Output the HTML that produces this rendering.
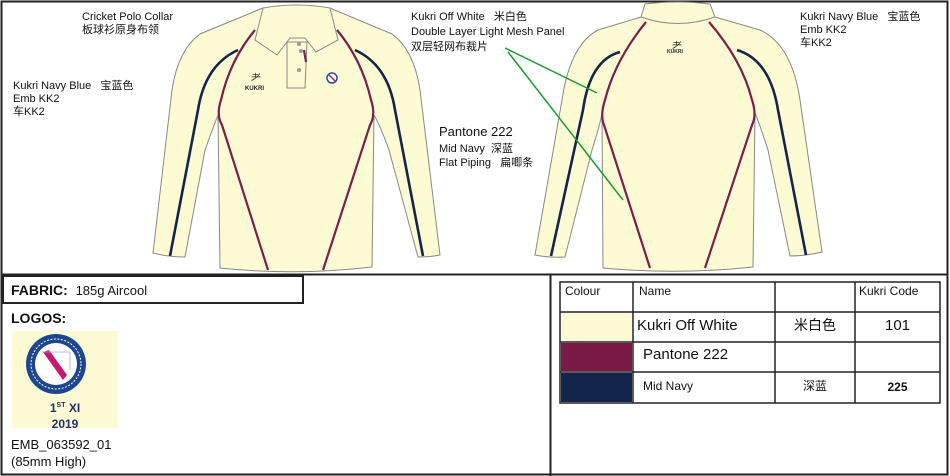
<!DOCTYPE html>
<html><head><meta charset="utf-8"><style>
html,body{margin:0;padding:0;background:#fff;}
body{width:950px;height:476px;position:relative;overflow:hidden;font-family:"Liberation Sans","Noto Sans CJK SC",sans-serif;color:#111;}
.t{position:absolute;font-size:11px;line-height:13px;white-space:nowrap;}
svg{position:absolute;left:0;top:0;}
</style></head><body>
<svg width="950" height="476" viewBox="0 0 950 476">
<rect x="1.5" y="1.5" width="946" height="473" fill="none" stroke="#222" stroke-width="2"/>
<!-- FRONT SHIRT -->
<g stroke="#888" stroke-width="1" fill="#fdfbd3">
<path d="M263,8 L200,34 Q178,50 172,90 L153,253 Q168,257 185,257 L205,150 Q214,125 218,115 L220,268 Q296,276 372,267 L374,115 Q380,125 389,150 L418,257 Q430,257 440,255 L420,90 Q414,50 392,34 L330,8 Z"/>
<path d="M263,8 Q296,2 330,8 L338,40 L316,52 L305,38 L290,38 L277,55 L255,40 Z"/>
<path d="M287,42 L287,88 L305,88 L307,42 Z"/>
</g>
<g fill="none" stroke-width="2.2">
<path d="M255,30 Q230,60 221,100 Q216,115 222,125 L268,270" stroke="#7a1f48"/>
<path d="M337,30 Q362,60 371,100 Q376,115 370,125 L323,270" stroke="#7a1f48"/>
<path d="M238,50 Q205,65 198,110 L170,256" stroke="#13254b" stroke-width="2.6"/>
<path d="M355,50 Q388,65 395,110 L423,256" stroke="#13254b" stroke-width="2.6"/>
<path d="M304,50 L306,62" stroke="#7a1f48"/>
</g>
<circle cx="299" cy="44" r="2" fill="#999"/><circle cx="301" cy="51" r="2" fill="#999"/><circle cx="299" cy="70" r="2" fill="#999"/>
<circle cx="332" cy="78" r="5" fill="#fff" stroke="#2550a0" stroke-width="1.5"/>
<path d="M329,75 L335,81" stroke="#c0206a" stroke-width="1.5"/>
<text x="251" y="81" font-size="10" fill="#222">⺹</text>
<text x="245" y="90" font-size="6" font-weight="bold" fill="#222">KUKRI</text>
<!-- BACK SHIRT -->
<g stroke="#888" stroke-width="1" fill="#fdfbd3">
<path d="M641,17 L598,30 Q570,45 562,100 L535,255 Q550,258 565,257 L592,150 Q600,125 602,113 L603,268 Q678,275 753,267 L755,113 Q760,125 768,150 L790,256 Q806,256 822,252 L800,100 Q792,45 760,30 L715,17 Z"/>
<path d="M645,4 Q678,0 710,4 L715,17 Q678,30 641,17 Z"/>
</g>
<g fill="none" stroke-width="2.2">
<path d="M646,22 Q615,60 605,100 Q600,115 604,125 L650,268" stroke="#7a1f48"/>
<path d="M709,22 Q742,60 752,100 Q757,115 752,125 L705,268" stroke="#7a1f48"/>
<path d="M620,52 Q590,60 583,110 L551,256" stroke="#13254b" stroke-width="2.6"/>
<path d="M737,50 Q770,60 778,110 L806,255" stroke="#13254b" stroke-width="2.6"/>
</g>
<text x="672" y="49" font-size="10" fill="#222">⺹</text>
<text x="667" y="53" font-size="5" font-weight="bold" fill="#222">KUKRI</text>
<!-- green leaders -->
<path d="M505,48 L597,93 M508,52 L623,200" stroke="#1a9a30" stroke-width="1.5" fill="none"/>
<!-- frame lines -->
<line x1="2" y1="274.5" x2="948" y2="274.5" stroke="#222" stroke-width="2"/>
<line x1="550.5" y1="274" x2="550.5" y2="476" stroke="#222" stroke-width="2"/>
<rect x="3" y="276" width="300" height="27" fill="none" stroke="#222" stroke-width="2"/>
<!-- logo -->
<rect x="12" y="331" width="106" height="97" fill="#fdfbd3"/>
<circle cx="56" cy="364" r="30" fill="#1d4590"/>
<circle cx="56" cy="364" r="25" fill="none" stroke="#fff" stroke-width="1" stroke-dasharray="2 1.5"/>
<circle cx="56" cy="364" r="21" fill="#fff"/>
<path d="M43,352 L49,350 L67,375 L63,380 Z" fill="#c8166a"/>
<path d="M42,352 L70,352 L70,370" fill="none" stroke="#aab" stroke-width="0.8"/>
<!-- table -->
<g stroke="#222" stroke-width="1.5" fill="none">
<rect x="560" y="282" width="380" height="121"/>
<line x1="560" y1="312" x2="940" y2="312"/><line x1="560" y1="342" x2="940" y2="342"/><line x1="560" y1="372" x2="940" y2="372"/>
<line x1="633" y1="282" x2="633" y2="403"/><line x1="775" y1="282" x2="775" y2="403"/><line x1="855" y1="282" x2="855" y2="403"/>
</g>
<rect x="561" y="313" width="71" height="28" fill="#fdfbd3"/>
<rect x="561" y="343" width="71" height="28" fill="#7a1a44"/>
<rect x="561" y="373" width="71" height="29" fill="#13254b"/>
</svg>
<div class="t" style="left:82px;top:11px">Cricket Polo Collar<br>板球衫原身布领</div>
<div class="t" style="left:13px;top:80px">Kukri Navy Blue&nbsp;&nbsp; 宝蓝色<br>Emb KK2<br>车KK2</div>
<div class="t" style="left:411px;top:10px;line-height:15px">Kukri Off White&nbsp;&nbsp; 米白色<br>Double Layer Light Mesh Panel<br>双层轻网布裁片</div>
<div class="t" style="left:800px;top:11px">Kukri Navy Blue&nbsp;&nbsp; 宝蓝色<br>Emb KK2<br>车KK2</div>
<div class="t" style="left:439px;top:124px;font-size:13px;line-height:16px">Pantone 222</div>
<div class="t" style="left:439px;top:142px;line-height:14px">Mid Navy&nbsp; 深蓝<br>Flat Piping&nbsp;&nbsp; 扁唧条</div>
<div class="t" style="left:11px;top:282px;font-size:14px;line-height:16px"><b>FABRIC:</b>&nbsp; <span style="font-size:13px">185g Aircool</span></div>
<div class="t" style="left:11px;top:312px;font-size:14px;font-weight:bold">LOGOS:</div>
<div class="t" style="left:12px;top:398px;width:106px;text-align:center;font-size:12px;font-weight:bold;color:#1d2f70;line-height:16px">1<sup style="font-size:7px">ST</sup> XI<br>2019</div>
<div class="t" style="left:11px;top:436px;font-size:13px;line-height:17px">EMB_063592_01<br>(85mm High)</div>
<div class="t" style="left:565px;top:285px;font-size:12px">Colour</div>
<div class="t" style="left:639px;top:285px;font-size:12px">Name</div>
<div class="t" style="left:859px;top:285px;font-size:12px">Kukri Code</div>
<div class="t" style="left:637px;top:319px;font-size:15px">Kukri Off White</div>
<div class="t" style="left:775px;top:319px;width:80px;text-align:center;font-size:14px">米白色</div>
<div class="t" style="left:855px;top:319px;width:85px;text-align:center;font-size:15px">101</div>
<div class="t" style="left:643px;top:348px;font-size:15px">Pantone 222</div>
<div class="t" style="left:643px;top:380px;font-size:12px">Mid Navy</div>
<div class="t" style="left:775px;top:380px;width:80px;text-align:center;font-size:12px">深蓝</div>
<div class="t" style="left:855px;top:381px;width:85px;text-align:center;font-size:12px;font-weight:bold">225</div>
</body></html>
